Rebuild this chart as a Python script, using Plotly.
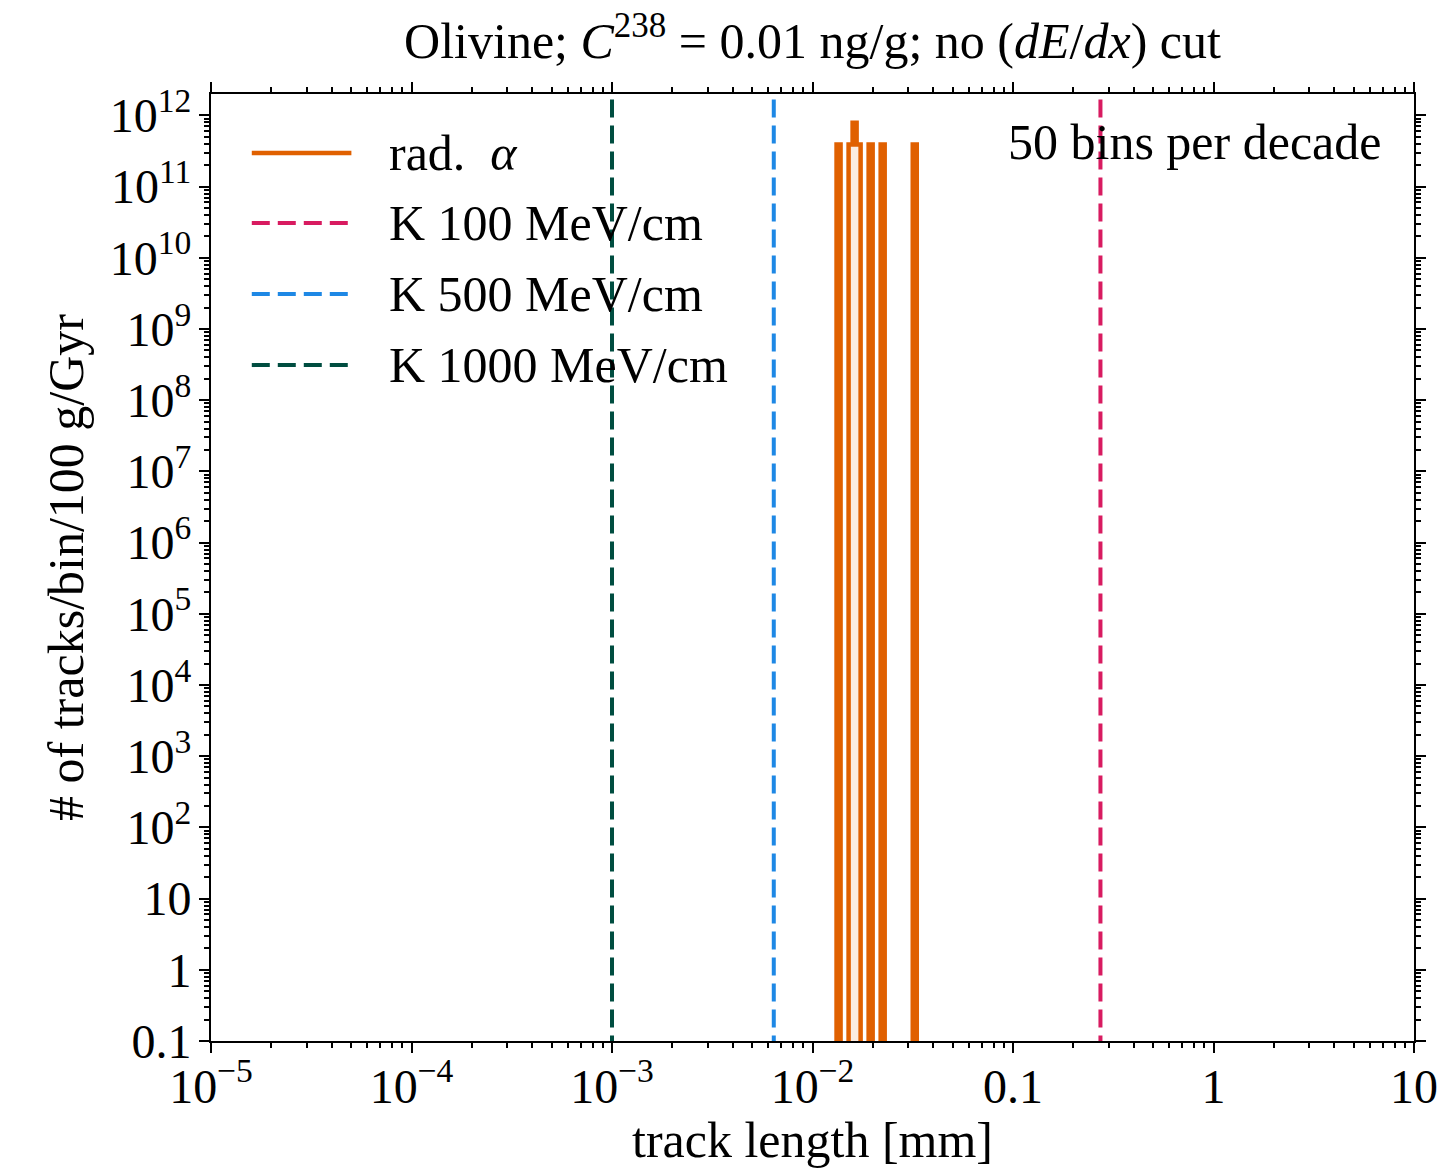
import plotly.graph_objects as go

# ---------------- data ----------------
bins_per_decade = 50
# left edges (mm) of the non-empty radiogenic-alpha bins (50 bins per decade)
alpha_bin_left_mm = [0.0131826, 0.0151356, 0.0158489, 0.0165959, 0.0190546, 0.0218776, 0.0316228]
alpha_counts = [3.9e11, 3.9e11, 7.9e11, 3.9e11, 3.9e11, 3.9e11, 3.9e11]

k_lines_mm = [0.273, 0.00641, 0.001]
k_labels = ["K 100 MeV/cm", "K 500 MeV/cm", "K 1000 MeV/cm"]
k_colors = ["#D81B60", "#1E88E5", "#004D40"]
alpha_color = "#E06000"

x_tickvals = [1e-5, 1e-4, 1e-3, 1e-2, 0.1, 1, 10]
x_ticktext = ["10<sup>−5</sup>", "10<sup>−4</sup>", "10<sup>−3</sup>", "10<sup>−2</sup>", "0.1", "1", "10"]
y_tickvals = [0.1, 1, 10] + [10.0 ** k for k in range(2, 13)]
y_ticktext = ["0.1", "1", "10"] + ["10<sup>%d</sup>" % k for k in range(2, 13)]

FONT = "Liberation Serif"
FS = 50
TFS = 48

# ---------------- step histogram path ----------------
ratio = 10 ** (1.0 / bins_per_decade)
floor = 1e-3  # empty bins (below axis range, clipped)
xs, ys = [], []
prev_right = None
for left, c in zip(alpha_bin_left_mm, alpha_counts):
    right = left * ratio
    if prev_right is None or abs(left / prev_right - 1) > 1e-3:
        if prev_right is not None:
            xs.append(prev_right); ys.append(floor)
        xs.append(left); ys.append(floor)
    xs += [left, right]
    ys += [c, c]
    prev_right = right
xs.append(prev_right); ys.append(floor)

fig = go.Figure()
fig.add_trace(go.Scatter(
    x=xs, y=ys, mode="lines", fill="toself",
    fillcolor="rgba(224,96,0,0.12)",
    line=dict(color=alpha_color, width=4.5), showlegend=False, name="rad. α"))

for v, lab, col in zip(k_lines_mm, k_labels, k_colors):
    fig.add_trace(go.Scatter(
        x=[v, v], y=[floor, 1e14], mode="lines",
        line=dict(color=col, width=4, dash="18px,8px"), showlegend=False, name=lab))

# ---------------- custom legend ----------------
leg_rows_y = [0.9377, 0.8638, 0.7888, 0.7138]
leg_names = ["rad.  <i>α</i>"] + k_labels
leg_cols = [alpha_color] + k_colors
leg_dash = ["solid"] + ["18px,8px"] * 3
shapes = []
annotations = []
for yy, nm, col, ds in zip(leg_rows_y, leg_names, leg_cols, leg_dash):
    shapes.append(dict(type="line", xref="paper", yref="paper",
                       x0=0.0339, x1=0.1167, y0=yy, y1=yy,
                       line=dict(color=col, width=4.5 if ds == "solid" else 4, dash=ds)))
    annotations.append(dict(text=nm, xref="paper", yref="paper", x=0.1465, y=yy,
                            xanchor="left", yanchor="middle", showarrow=False,
                            font=dict(family=FONT, size=FS, color="black")))
annotations.append(dict(text="50 bins per decade", xref="paper", yref="paper",
                        x=0.9743, y=0.949, xanchor="right", yanchor="middle",
                        showarrow=False, font=dict(family=FONT, size=FS, color="black")))

minor_x = [m * 10.0 ** k for k in range(-5, 1) for m in range(2, 10)]
minor_y = [m * 10.0 ** k for k in range(-1, 12) for m in range(2, 10) if m * 10.0 ** k <= 2e12]

axis_common = dict(
    type="log", showgrid=False, zeroline=False,
    showline=True, linecolor="black", linewidth=2, mirror="allticks",
    ticks="outside", ticklen=10, tickwidth=2, tickcolor="black",
    tickfont=dict(family=FONT, size=TFS, color="black"),
)

fig.update_layout(
    width=1450, height=1168,
    margin=dict(l=211, r=27, t=94, b=127),
    paper_bgcolor="white", plot_bgcolor="white",
    title=dict(text="Olivine; <i>C</i><sup>238</sup> = 0.01 ng/g; no (<i>dE</i>/<i>dx</i>) cut",
               x=0.5, xref="paper", xanchor="center", y=1 - 40 / 1168, yanchor="middle",
               font=dict(family=FONT, size=FS, color="black")),
    xaxis=dict(**axis_common, range=[-5, 1], tickmode="array",
               tickvals=x_tickvals, ticktext=x_ticktext, ticklabelstandoff=-8,
               minor=dict(tickmode="array", tickvals=minor_x, ticks="outside",
                          ticklen=5, tickwidth=1.5, tickcolor="black"),
               title=dict(text="track length [mm]", standoff=4,
                          font=dict(family=FONT, size=FS, color="black"))),
    yaxis=dict(**axis_common, range=[-1, 12.30103], tickmode="array",
               tickvals=y_tickvals, ticktext=y_ticktext, ticklabelstandoff=-2,
               minor=dict(tickmode="array", tickvals=minor_y, ticks="outside",
                          ticklen=5, tickwidth=1.5, tickcolor="black"),
               title=dict(text="# of tracks/bin/100 g/Gyr", standoff=10,
                          font=dict(family=FONT, size=FS, color="black"))),
    shapes=shapes,
    annotations=annotations,
    showlegend=False,
)

fig.write_html("out.html")
